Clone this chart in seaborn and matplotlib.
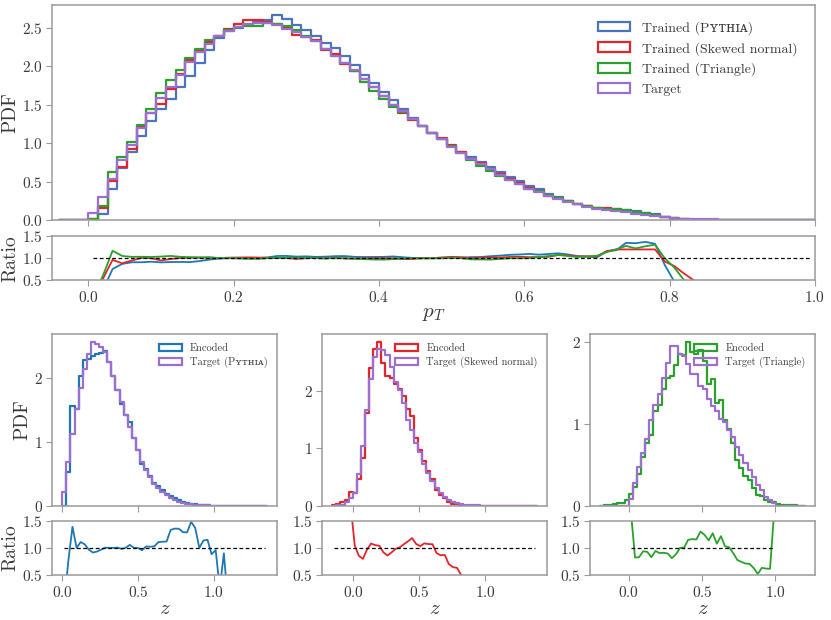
import numpy as np
import pandas as pd
import matplotlib
matplotlib.use("Agg")
import matplotlib.pyplot as plt
import seaborn as sns
from matplotlib.patches import Patch

# ---------------- data ----------------
pt_edges = np.linspace(-0.04, 1.0, 79)
pt_target = [0, 0, 0,
             0.09, 0.30, 0.53, 0.78, 0.98, 1.20, 1.40, 1.59, 1.73, 1.89,
             2.06, 2.19, 2.29, 2.39, 2.46, 2.51, 2.55, 2.57, 2.56, 2.54,
             2.49, 2.45, 2.38, 2.33, 2.23, 2.14, 2.04, 1.96, 1.84, 1.73,
             1.62, 1.50, 1.42, 1.32, 1.22, 1.14, 1.05, 0.95, 0.87, 0.80,
             0.73, 0.66, 0.59, 0.52, 0.47, 0.41, 0.37, 0.31, 0.27, 0.235,
             0.205, 0.175, 0.15, 0.13, 0.115, 0.10, 0.085, 0.07, 0.055, 0.04,
             0.028, 0.02, 0.015, 0.012, 0.009, 0.007, 0.006, 0.005, 0.004, 0.003,
             0.003, 0.002, 0.002, 0.001, 0.001]
pt_pythia = [0, 0, 0,
             0.0, 0.08, 0.40, 0.68, 0.89, 1.09, 1.29, 1.44, 1.58, 1.73,
             1.88, 2.05, 2.22, 2.37, 2.46, 2.50, 2.54, 2.58, 2.61, 2.67,
             2.62, 2.54, 2.48, 2.40, 2.31, 2.24, 2.14, 2.02, 1.89, 1.78,
             1.67, 1.56, 1.45, 1.33, 1.22, 1.14, 1.05, 0.96, 0.88, 0.82,
             0.75, 0.69, 0.625, 0.56, 0.51, 0.45, 0.40, 0.34, 0.30, 0.255,
             0.215, 0.182, 0.153, 0.15, 0.136, 0.135, 0.114, 0.096, 0.073, 0.034,
             0.013, 0.004, 0, 0, 0, 0, 0, 0, 0, 0,
             0, 0, 0, 0, 0]
pt_skewed = [0, 0, 0,
             0.01, 0.16, 0.51, 0.69, 0.93, 1.21, 1.40, 1.51, 1.70, 1.90,
             2.08, 2.22, 2.32, 2.40, 2.49, 2.55, 2.60, 2.61, 2.58, 2.55,
             2.50, 2.41, 2.38, 2.34, 2.22, 2.16, 2.03, 1.94, 1.84, 1.73,
             1.62, 1.50, 1.39, 1.30, 1.22, 1.14, 1.07, 0.98, 0.89, 0.80,
             0.74, 0.67, 0.60, 0.535, 0.485, 0.42, 0.38, 0.32, 0.29, 0.25,
             0.213, 0.182, 0.156, 0.151, 0.138, 0.12, 0.102, 0.084, 0.066, 0.037,
             0.023, 0.013, 0.0075, 0.004, 0, 0, 0, 0, 0, 0,
             0, 0, 0, 0, 0]
pt_triangle = [0, 0, 0,
               0.01, 0.18, 0.62, 0.82, 1.01, 1.24, 1.44, 1.65, 1.82, 1.95,
               2.11, 2.23, 2.34, 2.40, 2.47, 2.51, 2.52, 2.53, 2.56, 2.55,
               2.52, 2.47, 2.40, 2.33, 2.23, 2.14, 2.04, 1.94, 1.80, 1.68,
               1.57, 1.47, 1.41, 1.32, 1.22, 1.14, 1.05, 0.96, 0.87, 0.78,
               0.71, 0.64, 0.58, 0.52, 0.47, 0.41, 0.38, 0.325, 0.29, 0.247,
               0.211, 0.182, 0.158, 0.148, 0.138, 0.128, 0.104, 0.089, 0.072, 0.04,
               0.022, 0.01, 0.003, 0, 0, 0, 0, 0, 0, 0,
               0, 0, 0, 0, 0]

z_edges_pythia = np.linspace(0.0, 1.35, 51)
z_target_pythia = [0.22, 0.69, 1.13, 1.52, 1.84, 2.15, 2.38, 2.56, 2.54, 2.48,
                   2.41, 2.25, 2.04, 1.81, 1.63, 1.42, 1.24, 1.06, 0.87, 0.69,
                   0.56, 0.46, 0.35, 0.28, 0.22, 0.17, 0.12, 0.09, 0.065, 0.048,
                   0.035, 0.025, 0.019, 0.014, 0.011, 0.008, 0.006, 0.005, 0.004, 0.003,
                   0.0025, 0.002, 0.0015, 0.0012, 0.001, 0.0008, 0.0006, 0.0005, 0.0004, 0.0003]
z_encoded_pythia = [0.0, 0.53, 1.57, 1.52, 2.04, 2.29, 2.30, 2.34, 2.37, 2.40,
                    2.42, 2.25, 2.04, 1.82, 1.60, 1.42, 1.31, 1.06, 0.87, 0.66,
                    0.575, 0.47, 0.36, 0.31, 0.245, 0.19, 0.16, 0.122, 0.088, 0.062,
                    0.045, 0.037, 0.026, 0.014, 0.0125, 0.0092, 0.0053, 0.0048, 0.001, 0.0027,
                    0, 0, 0, 0, 0, 0, 0, 0, 0, 0]

z_edges_skewed = np.linspace(-0.16, 1.39, 51)
z_target_skewed = [0.003, 0.008, 0.02, 0.06, 0.14, 0.22, 0.55, 1.04, 1.66, 2.21,
                   2.59, 2.73, 2.71, 2.62, 2.42, 2.16, 2.01, 1.78, 1.50, 1.32,
                   1.10, 0.94, 0.72, 0.57, 0.44, 0.31, 0.22, 0.155, 0.10, 0.065,
                   0.046, 0.03, 0.02, 0.014, 0.01, 0.008, 0.006, 0.005, 0.004, 0.003,
                   0.0025, 0.002, 0.0015, 0.0012, 0.001, 0.0008, 0.0006, 0.0004, 0.0003, 0.0002]
z_encoded_skewed = [0.02, 0.03, 0.06, 0.10, 0.25, 0.23, 0.47, 0.83, 1.61, 2.39,
                    2.72, 2.84, 2.49, 2.25, 2.22, 2.12, 2.03, 1.90, 1.68, 1.56,
                    1.18, 0.97, 0.78, 0.61, 0.47, 0.28, 0.19, 0.135, 0.07, 0.042,
                    0.029, 0.015, 0.007, 0.003, 0, 0, 0, 0, 0, 0,
                    0, 0, 0, 0, 0, 0, 0, 0, 0, 0]

z_edges_triangle = np.linspace(-0.196, 1.204, 51)
z_target_triangle = [0, 0, 0, 0, 0, 0, 0,
                     0.09, 0.28, 0.47, 0.64, 0.82, 1.04, 1.23, 1.36, 1.56, 1.74,
                     1.95, 1.94, 1.85, 1.83, 1.73, 1.61, 1.60, 1.46, 1.42, 1.30,
                     1.22, 1.16, 1.06, 1.02, 0.92, 0.84, 0.72, 0.62, 0.52, 0.44,
                     0.35, 0.25, 0.19, 0.11, 0.07, 0.03,
                     0, 0, 0, 0, 0, 0, 0]
z_encoded_triangle = [0.005, 0.01, 0.015, 0.025, 0.035, 0.04, 0.07,
                      0.15, 0.23, 0.39, 0.60, 0.76, 0.86, 1.16, 1.23, 1.42, 1.56,
                      1.58, 1.71, 1.85, 1.84, 1.99, 1.87, 1.85, 1.90, 1.76, 1.48,
                      1.55, 1.25, 1.29, 1.05, 0.93, 0.76, 0.56, 0.46, 0.37, 0.31,
                      0.22, 0.13, 0.12, 0.068, 0.043, 0.05,
                      0.02, 0.015, 0.01, 0.008, 0.006, 0.004, 0.003]

pt_ticks = [0.0, 0.2, 0.4, 0.6, 0.8, 1.0]
z_ticks = [0.0, 0.5, 1.0]
ratio_ticks = [0.5, 1.0, 1.5]

# ---------------- style ----------------
C_BLUE_TOP = "#4a74c0"
C_BLUE = "#1f77b4"
C_RED = "#e3242b"
C_GREEN = "#2ca02c"
C_PURPLE = "#9b6fd0"
GRAY = "#9a9a9a"
TXT = "#3a3a3a"

sns.set_style("ticks")
plt.rcParams.update({
    "font.family": ["cmr10", "DejaVu Serif"],
    "mathtext.fontset": "cm",
    "axes.formatter.use_mathtext": True,
    "axes.unicode_minus": False,
    "axes.edgecolor": GRAY,
    "axes.linewidth": 1.1,
    "xtick.color": GRAY,
    "ytick.color": GRAY,
    "xtick.labelcolor": TXT,
    "ytick.labelcolor": TXT,
    "axes.labelcolor": TXT,
    "text.color": TXT,
    "xtick.major.size": 4,
    "ytick.major.size": 4,
    "xtick.major.pad": 3,
    "ytick.major.pad": 2.5,
})

PY = "P\u028f\u1d1b\u029c\u026a\u1d00"  # small-caps "Pythia"
TICK_FS = 11
LAB_FS = 14

fig = plt.figure(figsize=(8.31, 6.2), dpi=100)


def centers_of(edges):
    e = np.asarray(edges)
    return 0.5 * (e[:-1] + e[1:])


def step_hist(ax, edges, vals, color, lw=1.6):
    e = np.asarray(edges)
    df = pd.DataFrame({"x": centers_of(e), "w": np.asarray(vals, float)})
    e2 = [float(e[0])] + [float(v) for v in e]  # zero-width leading bin -> vertical rise
    sns.histplot(data=df, x="x", weights="w", bins=e2, element="step",
                 fill=False, stat="count", color=color, linewidth=lw, ax=ax)


def ratio_line(ax, edges, num, den, color, lw=1.3):
    c = centers_of(edges)
    num = np.asarray(num, float)
    den = np.asarray(den, float)
    m = den > 0
    df = pd.DataFrame({"x": c[m], "r": num[m] / den[m]})
    sns.lineplot(data=df, x="x", y="r", color=color, linewidth=lw, ax=ax)
    return c[m].min(), c[m].max()


def style_ratio(ax, x0, x1):
    ax.hlines(1.0, x0, x1, colors="black", linestyles=(0, (3, 2)), linewidth=0.9)
    ax.set_ylim(0.5, 1.5)
    ax.set_yticks(ratio_ticks)


# ---------------- top panel ----------------
ax_top = fig.add_axes([0.0626, 0.645, 0.918, 0.347])
ax_topr = fig.add_axes([0.0626, 0.548, 0.918, 0.071], sharex=ax_top)

step_hist(ax_top, pt_edges, pt_pythia, C_BLUE_TOP)
step_hist(ax_top, pt_edges, pt_skewed, C_RED)
step_hist(ax_top, pt_edges, pt_triangle, C_GREEN)
step_hist(ax_top, pt_edges, pt_target, C_PURPLE)
ax_top.set_xlim(-0.05, 1.0)
ax_top.set_ylim(0, 2.8)
ax_top.set_xticks(pt_ticks)
ax_top.set_yticks([0.0, 0.5, 1.0, 1.5, 2.0, 2.5])
ax_top.tick_params(labelbottom=False, labelsize=TICK_FS)
ax_top.set_ylabel("PDF", fontsize=LAB_FS, labelpad=2)
ax_top.set_xlabel("")

handles = [Patch(facecolor="none", edgecolor=c, linewidth=1.6) for c in
           (C_BLUE_TOP, C_RED, C_GREEN, C_PURPLE)]
labels = [f"Trained ({PY})", "Trained (Skewed normal)", "Trained (Triangle)", "Target"]
ax_top.legend(handles, labels, loc="upper right", frameon=False, fontsize=10,
              handlelength=2.3, borderaxespad=0.6, bbox_to_anchor=(0.995, 0.99))

x0, x1 = ratio_line(ax_topr, pt_edges, pt_pythia, pt_target, C_BLUE)
ratio_line(ax_topr, pt_edges, pt_skewed, pt_target, C_RED)
ratio_line(ax_topr, pt_edges, pt_triangle, pt_target, C_GREEN)
style_ratio(ax_topr, x0, x1)
ax_topr.tick_params(labelsize=TICK_FS)
ax_topr.set_ylabel("Ratio", fontsize=LAB_FS, labelpad=2)
ax_topr.set_xlabel("$p_T$", fontsize=15, labelpad=0)
ax_topr.set_xlim(-0.05, 1.0)

# ---------------- bottom panels ----------------
lefts = [0.0626, 0.3875, 0.710]
panels = [
    (z_edges_pythia, z_encoded_pythia, z_target_pythia, C_BLUE, f"Target ({PY})"),
    (z_edges_skewed, z_encoded_skewed, z_target_skewed, C_RED, "Target (Skewed normal)"),
    (z_edges_triangle, z_encoded_triangle, z_target_triangle, C_GREEN, "Target (Triangle)"),
]
bottom_hist_axes = []
bottom_ratio_axes = []
for i, (edges, enc, tgt, col, tlabel) in enumerate(panels):
    ax = fig.add_axes([lefts[i], 0.184, 0.2708, 0.277])
    axr = fig.add_axes([lefts[i], 0.0726, 0.2708, 0.0874], sharex=ax)
    step_hist(ax, edges, enc, col)
    step_hist(ax, edges, tgt, C_PURPLE)
    ax.set_ylim(bottom=0)
    ax.set_xticks(z_ticks)
    ax.set_yticks([0, 1, 2])
    ax.tick_params(labelbottom=False, labelsize=TICK_FS)
    ax.set_xlabel("")
    ax.set_ylabel("PDF" if i == 0 else "", fontsize=LAB_FS, labelpad=2)
    h = [Patch(facecolor="none", edgecolor=c, linewidth=1.6) for c in (col, C_PURPLE)]
    ax.legend(h, ["Encoded", tlabel], loc="upper right", frameon=False, fontsize=7.5,
              handlelength=2.2, labelspacing=0.35, borderaxespad=0.5)

    a, b = ratio_line(axr, edges, enc, tgt, col)
    style_ratio(axr, a, b)
    axr.tick_params(labelsize=TICK_FS)
    axr.set_ylabel("Ratio" if i == 0 else "", fontsize=LAB_FS, labelpad=2)
    axr.set_xlabel("$z$", fontsize=15, labelpad=0)
    bottom_hist_axes.append(ax)
    bottom_ratio_axes.append(axr)

fig.align_ylabels([ax_top, ax_topr])
fig.align_ylabels([bottom_hist_axes[0], bottom_ratio_axes[0]])

fig.savefig("out.png", dpi=100)
